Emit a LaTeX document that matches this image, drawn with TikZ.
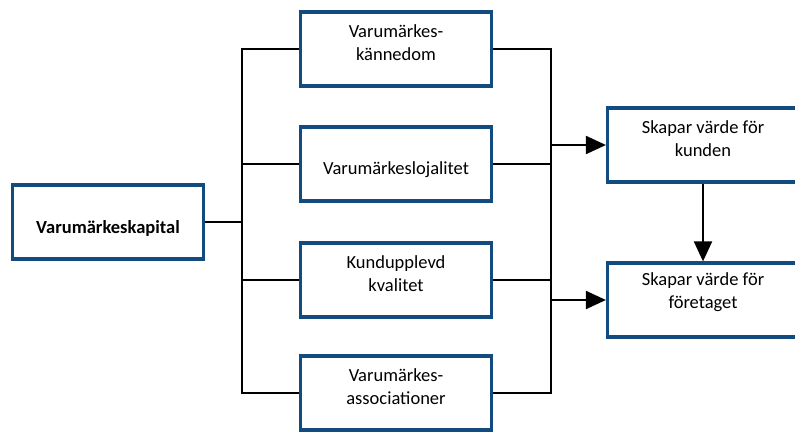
\documentclass[tikz,border=0pt]{standalone}
\usepackage{fontspec}
\setmainfont{Carlito}
\usetikzlibrary{arrows.meta, positioning}
\definecolor{boxblue}{HTML}{124B80}

\begin{document}
\begin{tikzpicture}[x=1pt, y=-1pt,
    >={Triangle[length=20pt, width=18pt]},
    box/.style = {draw=boxblue, line width=3.2pt, fill=white,
                  minimum width=191pt, minimum height=74pt, inner sep=0pt},
    txt/.style = {align=center, font=\fontsize{18.5}{23}\selectfont, inner sep=0pt},
    one/.style = {txt, yshift=-6pt},
    two/.style = {txt, yshift=6pt},
    con/.style = {draw=black, line width=2pt},
    arr/.style = {con, ->}
  ]
  \useasboundingbox (0,0) rectangle (795,432);

  % --- boxes ---
  \node[box] (kapital)   at (108,222) {};
  \node[box] (kannedom)  at (396,49)  {};
  \node[box] (lojalitet) at (396,164) {};
  \node[box] (kvalitet)  at (396,280) {};
  \node[box] (assoc)     at (396,393) {};
  \node[box] (kund)      at (703,145) {};
  \node[box] (foretag)   at (703,300) {};

  % --- texts ---
  \node[one] (t-kapital)   at (kapital)   {\bfseries Varumärkeskapital};
  \node[two] (t-kannedom)  at (kannedom)  {Varumärkes-\\kännedom};
  \node[one] (t-lojalitet) at (lojalitet) {Varumärkeslojalitet};
  \node[two] (t-kvalitet)  at (kvalitet)  {Kundupplevd\\kvalitet};
  \node[two] (t-assoc)     at (assoc)     {Varumärkes-\\associationer};
  \node[two] (t-kund)      at (kund)      {Skapar värde för\\kunden};
  \node[txt, yshift=8pt] (t-foretag) at (foretag) {Skapar värde för\\företaget};

  % --- bus lines ---
  \coordinate (lbus) at (242,0);
  \coordinate (rbus) at (551,0);

  \draw[con] (kapital.east) -- (kapital.east -| lbus);
  \draw[con] (kannedom.west) -- (kannedom.west -| lbus) -- (assoc.west -| lbus) -- (assoc.west);
  \draw[con] (kannedom.east) -- (kannedom.east -| rbus) -- (assoc.east -| rbus) -- (assoc.east);
  \foreach \n in {lojalitet, kvalitet} {
    \draw[con] (\n.west -| lbus) -- (\n.west);
    \draw[con] (\n.east) -- (\n.east -| rbus);
  }

  % --- arrows ---
  \draw[arr] (kund.west -| rbus) -- (kund.west);
  \draw[arr] (foretag.west -| rbus) -- (foretag.west);
  \draw[arr] (kund.south) -- (foretag.north);

\end{tikzpicture}
\end{document}
